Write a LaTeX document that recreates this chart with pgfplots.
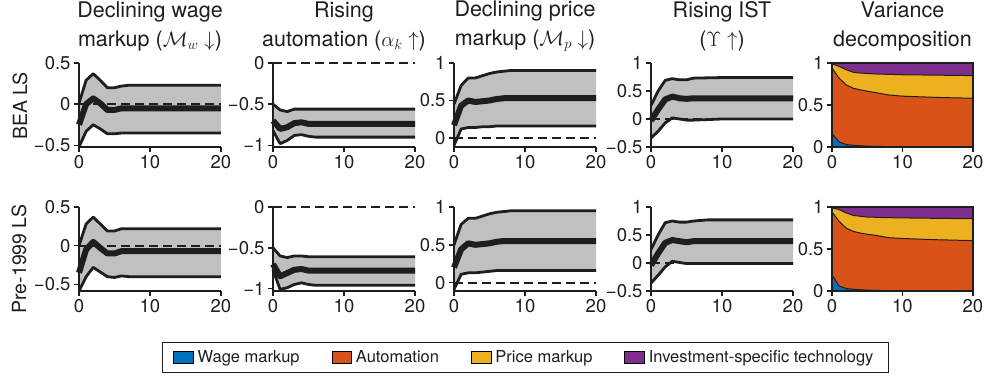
\documentclass[border=0pt]{standalone}
\usepackage{fontspec}
\setmainfont{TeX Gyre Heros}
\usepackage{pgfplots}
\usepackage{pgfplotstable}
\pgfplotsset{compat=1.18}

\definecolor{mblue}{RGB}{0,114,189}
\definecolor{morange}{RGB}{217,83,25}
\definecolor{myellow}{RGB}{237,177,32}
\definecolor{mpurple}{RGB}{126,47,142}
\definecolor{bandgray}{RGB}{192,192,192}
\definecolor{ink}{RGB}{30,30,30}

% impulse responses: t, lower band, median, upper band
\pgfplotstableread{
t lo med hi
0 -0.52 -0.25 0.01
1 -0.33 0.00 0.29
2 -0.25 0.07 0.37
3 -0.30 0.01 0.29
4 -0.36 -0.07 0.20
5 -0.36 -0.07 0.20
6 -0.35 -0.05 0.22
7 -0.35 -0.05 0.23
20 -0.35 -0.05 0.23
}\Aone
\pgfplotstableread{
t lo med hi
0 -0.585 -0.35 0.00
1 -0.40 -0.05 0.28
2 -0.28 0.05 0.37
3 -0.34 -0.03 0.28
4 -0.40 -0.10 0.19
5 -0.41 -0.10 0.19
6 -0.39 -0.07 0.22
7 -0.40 -0.07 0.22
20 -0.40 -0.07 0.22
}\Atwo
\pgfplotstableread{
t lo med hi
0 -0.82 -0.70 -0.50
1 -0.98 -0.80 -0.57
2 -0.94 -0.78 -0.59
3 -0.88 -0.73 -0.56
4 -0.87 -0.72 -0.56
5 -0.89 -0.74 -0.56
6 -0.90 -0.74 -0.56
20 -0.90 -0.74 -0.56
}\Bone
\pgfplotstableread{
t lo med hi
0 -0.77 -0.70 -0.50
1 -1.01 -0.85 -0.60
2 -0.99 -0.81 -0.62
3 -0.95 -0.77 -0.60
4 -0.93 -0.76 -0.60
5 -0.95 -0.78 -0.61
6 -0.96 -0.78 -0.61
20 -0.96 -0.78 -0.61
}\Btwo
\pgfplotstableread{
t lo med hi
0 -0.10 0.17 0.45
1 0.12 0.43 0.70
2 0.14 0.50 0.80
3 0.14 0.48 0.80
4 0.15 0.49 0.83
5 0.15 0.50 0.86
6 0.16 0.52 0.88
7 0.16 0.53 0.89
8 0.16 0.53 0.90
20 0.16 0.53 0.90
}\Cone
\pgfplotstableread{
t lo med hi
0 -0.09 0.20 0.50
1 0.11 0.44 0.77
2 0.13 0.52 0.85
3 0.13 0.50 0.85
4 0.14 0.51 0.88
5 0.15 0.52 0.91
6 0.16 0.54 0.93
7 0.16 0.55 0.94
8 0.16 0.55 0.95
20 0.16 0.55 0.95
}\Ctwo
\pgfplotstableread{
t lo med hi
0 -0.34 -0.03 0.24
1 -0.22 0.17 0.50
2 -0.07 0.35 0.69
3 0.02 0.40 0.72
4 0.00 0.37 0.70
5 -0.02 0.36 0.70
6 -0.02 0.37 0.73
10 0.00 0.37 0.74
20 0.00 0.37 0.74
}\Done
\pgfplotstableread{
t lo med hi
0 -0.36 -0.04 0.24
1 -0.22 0.17 0.50
2 -0.07 0.36 0.72
3 0.03 0.41 0.75
4 0.01 0.39 0.73
5 -0.01 0.37 0.73
6 -0.01 0.39 0.75
8 -0.01 0.39 0.77
20 -0.01 0.39 0.77
}\Dtwo
% variance decomposition, cumulative: wage, +automation, +price markup
\pgfplotstableread{
t w a p
0 0.16 0.94 0.99
1 0.06 0.82 0.96
2 0.03 0.74 0.92
3 0.02 0.70 0.89
4 0.015 0.68 0.88
5 0.01 0.665 0.875
6 0.008 0.65 0.87
7 0.006 0.635 0.867
8 0.005 0.62 0.865
10 0.004 0.605 0.86
15 0.002 0.59 0.855
20 0.001 0.58 0.85
}\Eone
\pgfplotstableread{
t w a p
0 0.19 0.94 0.99
1 0.06 0.83 0.97
2 0.03 0.75 0.93
3 0.02 0.71 0.90
4 0.015 0.69 0.89
5 0.01 0.675 0.88
6 0.008 0.665 0.878
7 0.006 0.65 0.875
8 0.005 0.635 0.873
10 0.004 0.625 0.87
15 0.002 0.61 0.865
20 0.001 0.60 0.86
}\Etwo

\pgfplotsset{
  base/.style={
    scale only axis, width=142pt, height=84pt,
    xmin=0, xmax=20, xtick={0,10,20}, xticklabels={0,10,20},
    axis line style={line width=1.5pt, ink},
    every tick/.style={line width=1.5pt, ink},
    tick align=outside, major tick length=5pt,
    tick label style={font=\fontsize{18.5}{20}\selectfont, text=ink},
    title style={font=\fontsize{21.5}{29}\selectfont, align=center,
      at={(0.5,1)}, anchor=south, yshift=5.5pt, inner sep=0pt, text=ink},
    axis on top, clip=false,
  },
  irf/.style={base, axis x line*=bottom, axis y line*=left,
    x axis line style={-}, y axis line style={-}},
  edge/.style={draw=ink, line width=2.8pt, line join=round},
  med/.style={draw=ink, line width=6pt, line join=round},
  zero/.style={draw=ink, line width=2.2pt, dash pattern=on 9pt off 5pt},
}
\newcommand{\irf}[1]{%
  \addplot[draw=none, stack plots=y, forget plot] table[x=t,y=lo]{#1};
  \addplot[fill=bandgray, draw=none, stack plots=y, forget plot]
     table[x=t,y expr=\thisrow{hi}-\thisrow{lo}]{#1} \closedcycle;
  \addplot[zero, forget plot] coordinates {(0,0) (20,0)};
  \addplot[edge, forget plot] table[x=t,y=hi]{#1};
  \addplot[edge, forget plot] table[x=t,y=lo]{#1};
  \addplot[med, forget plot] table[x=t,y=med]{#1};
}
\newcommand{\vd}[1]{%
  \addplot[fill=mpurple, draw=ink, line width=1pt, forget plot] coordinates {(0,1) (20,1)} \closedcycle;
  \addplot[fill=myellow, draw=ink, line width=1pt, forget plot] table[x=t,y=p]{#1} \closedcycle;
  \addplot[fill=morange, draw=ink, line width=1pt, forget plot] table[x=t,y=a]{#1} \closedcycle;
  \addplot[fill=mblue, draw=ink, line width=1pt, forget plot] table[x=t,y=w]{#1} \closedcycle;
}

\begin{document}
\begin{tikzpicture}
\useasboundingbox (0,0) rectangle (991pt,375pt);

% ---------- row 1 ----------
\begin{axis}[irf, at={(79pt,228pt)}, anchor=south west,
  ymin=-0.52, ymax=0.5, ytick={-0.5,0,0.5}, yticklabels={−0.5,0,0.5},
  title={Declining wage\\markup ($\mathcal{M}_w\downarrow$)}]
\irf{\Aone}
\end{axis}
\begin{axis}[irf, at={(273pt,228pt)}, anchor=south west,
  ymin=-1.02, ymax=0, ytick={-1,-0.5,0}, yticklabels={−1,−0.5,0},
  title={Rising\\automation ($\alpha_k\uparrow$)}]
\irf{\Bone}
\end{axis}
\begin{axis}[irf, at={(454pt,228pt)}, anchor=south west,
  ymin=-0.12, ymax=1, ytick={0,0.5,1}, yticklabels={0,0.5,1},
  title={Declining price\\markup ($\mathcal{M}_p\downarrow$)}]
\irf{\Cone}
\end{axis}
\begin{axis}[irf, at={(651pt,228pt)}, anchor=south west,
  ymin=-0.5, ymax=1, ytick={-0.5,0,0.5,1}, yticklabels={−0.5,0,0.5,1},
  title={Rising IST\\($\Upsilon\uparrow$)}]
\irf{\Done}
\end{axis}
\begin{axis}[base, at={(832pt,228pt)}, anchor=south west, width=141pt,
  xtick pos=lower, ytick pos=lower,
  ymin=0, ymax=1, ytick={0,0.5,1}, yticklabels={0,0.5,1},
  title={Variance\\decomposition}]
\vd{\Eone}
\end{axis}

% ---------- row 2 ----------
\begin{axis}[irf, at={(79pt,84pt)}, anchor=south west,
  ymin=-0.585, ymax=0.5, ytick={-0.5,0,0.5}, yticklabels={−0.5,0,0.5}]
\irf{\Atwo}
\end{axis}
\begin{axis}[irf, at={(273pt,84pt)}, anchor=south west,
  ymin=-1.03, ymax=0, ytick={-1,-0.5,0}, yticklabels={−1,−0.5,0}]
\irf{\Btwo}
\end{axis}
\begin{axis}[irf, at={(454pt,84pt)}, anchor=south west,
  ymin=-0.11, ymax=1, ytick={0,0.5,1}, yticklabels={0,0.5,1}]
\irf{\Ctwo}
\end{axis}
\begin{axis}[irf, at={(651pt,84pt)}, anchor=south west,
  ymin=-0.5, ymax=1, ytick={-0.5,0,0.5,1}, yticklabels={−0.5,0,0.5,1}]
\irf{\Dtwo}
\end{axis}
\begin{axis}[base, at={(832pt,84pt)}, anchor=south west, width=141pt,
  xtick pos=lower, ytick pos=lower,
  ymin=0, ymax=1, ytick={0,0.5,1}, yticklabels={0,0.5,1},
  legend columns=4,
  legend image code/.code={\fill[#1] (0pt,-5.75pt) rectangle (19.5pt,5.75pt);},
  legend style={at={(-4.752,-0.607)}, anchor=north west, draw=ink, line width=0.8pt,
    font=\fontsize{16.5}{19}\selectfont, text=ink,
    inner xsep=11pt, inner ysep=6pt,
    nodes={inner xsep=4pt, inner ysep=2pt},
    /tikz/every even column/.append style={column sep=28pt}}]
\vd{\Etwo}
\addlegendimage{fill=mblue}\addlegendentry{\rule[-14pt]{0pt}{14pt}Wage markup}
\addlegendimage{fill=morange}\addlegendentry{Automation}
\addlegendimage{fill=myellow}\addlegendentry{Price markup}
\addlegendimage{fill=mpurple}\addlegendentry{Investment-specific technology}
\end{axis}

% row labels
\node[rotate=90, font=\fontsize{19.5}{22}\selectfont, text=ink] at (20pt,269pt) {BEA LS};
\node[rotate=90, font=\fontsize{19.5}{22}\selectfont, text=ink] at (19pt,116pt) {Pre-1999 LS};
\end{tikzpicture}
\end{document}
